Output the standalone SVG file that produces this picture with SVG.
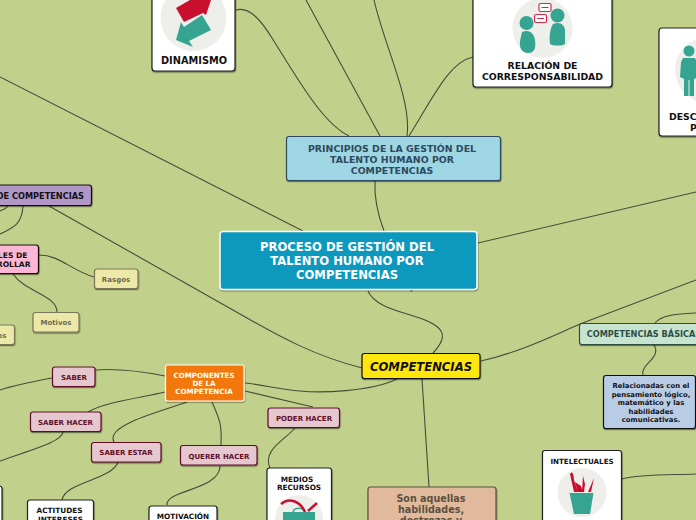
<svg xmlns="http://www.w3.org/2000/svg" width="696" height="520" viewBox="0 0 696 520">
<defs>
<filter id="sh" x="-10%" y="-10%" width="120%" height="125%"><feDropShadow dx="0.5" dy="1.2" stdDeviation="0.7" flood-color="#000" flood-opacity="0.45"/></filter>
</defs>
<style>
text{font-family:"DejaVu Sans","Liberation Sans",sans-serif;font-weight:700;text-anchor:middle}
.c{fill:none;stroke:#474c3a;stroke-width:1.1}
rect{filter:url(#sh)}
.w{fill:#fff;stroke:#222;stroke-width:1.2}
.p{fill:#e6c6cf;stroke:#5f1028;stroke-width:1.2}
.pt{fill:#5f1028;font-size:7px}
.y{fill:#ece8a8;stroke:#7b775a;stroke-width:1.2}
.yt{fill:#6f6b4f;font-size:7px}
.k{fill:#111;font-size:7.3px}
.k2{fill:#111;font-size:9.3px}
.disc{fill:#eeeeea}
.g{fill:#35a591}
.r{fill:#c8102e}
.b{fill:#fff;stroke:#d8284a;stroke-width:1.2;filter:none}
</style>
<rect x="-1" y="-1" width="698" height="522" fill="#c1d18b" style="filter:none"/>
<g id="connectors" class="c">
<path d="M0 77L303 231"/>
<path d="M49 206L240 314C280 337 315 356 362 368"/>
<path d="M236 10C250 6 262 22 272 38C296 76 322 123 349 136"/>
<path d="M306 0L380 136"/>
<path d="M374 0C384 45 412 100 407 136"/>
<path d="M473 57C450 62 436 92 409 136"/>
<path d="M375 181C374 200 378 215 384 231"/>
<path d="M478 243L696 192"/>
<path d="M368 291C375 308 405 312 425 320C442 327 450 335 433 353"/>
<path d="M481 361C520 352 550 337 580 324L696 280"/>
<path d="M397 379C370 392 320 393 300 391C280 390 265 385 245 383"/>
<path d="M245 391L313 407"/>
<path d="M422 379L429 487"/>
<path d="M655 323C662 314 680 314 696 313"/>
<path d="M654 345C662 358 640 364 643 375"/>
<path d="M622 479C640 474 670 475 696 474"/>
<path d="M165 376C145 372 120 368 95 370"/>
<path d="M52 378C30 382 15 385 0 390"/>
<path d="M165 392C140 398 105 402 88 412"/>
<path d="M63 432C62 442 30 450 0 461"/>
<path d="M187 402C160 412 105 425 114 442"/>
<path d="M118 462C112 480 65 482 62 500"/>
<path d="M212 402C220 420 222 425 221 445"/>
<path d="M220 466C220 490 165 490 167 505"/>
<path d="M295 428C285 440 262 450 270 468"/>
<path d="M23 206C22 225 12 228 0 234"/>
<path d="M8 206C6 209 2 210 0 211"/>
<path d="M39 255C60 255 70 270 94 277"/>
<path d="M13 274C25 292 57 295 57 312"/>
</g>
<g id="n-dinamismo">
<rect class="w" x="152" y="-10" width="83" height="81" rx="3"/>
<circle class="disc" cx="193.500" cy="18" r="33"/>
<path class="r" d="M176 8L190 0H211L206 15L203 13L184 22Z"/>
<path class="g" d="M181 22L184 27L202 15L211 30L189 41L193 47L176 40Z"/>
<text x="194" y="63.500" font-size="9.800" fill="#111">DINAMISMO</text>
</g>
<g id="n-relacion">
<rect class="w" x="473" y="-10" width="139" height="97" rx="3"/>
<circle class="disc" cx="542.500" cy="28" r="30"/>
<circle class="g" cx="526.500" cy="23" r="7"/>
<path class="g" d="M522 32C530 29 534 34 535 40C536 47 535 53 528 53C522 53 519 48 520 41Z"/>
<circle class="g" cx="557.500" cy="15.500" r="7"/>
<path class="g" d="M553 24C560 21 565 25 565 31L565 44C562 46 553 46 550 44C549 36 550 29 553 24Z"/>
<rect class="b" x="534.500" y="14.500" width="12" height="8" rx="1.500"/>
<path d="M537 18.500H544" stroke="#d8284a"/>
<rect class="b" x="539" y="3.500" width="12" height="8" rx="1.500"/>
<path d="M541.500 7.500H548.500" stroke="#d8284a"/>
<text x="542.500" y="69" class="k2">RELACIÓN DE</text>
<text x="542.500" y="80" class="k2">CORRESPONSABILIDAD</text>
</g>
<g id="n-descripcion">
<rect class="w" x="659" y="28" width="60" height="108" rx="3"/>
<circle class="disc" cx="708" cy="70" r="33"/>
<circle class="g" cx="689" cy="51" r="5.500"/>
<path class="g" d="M683 58H695L697 62L697 78L694 79V96H689.500V80H688.500V96H684V79L680 77L681 62Z"/>
<text x="669" y="119.500" class="k2" style="text-anchor:start">DESCRIPCIÓN</text>
<text x="690" y="130.500" class="k2" style="text-anchor:start">P</text>
</g>
<g id="n-principios">
<rect x="286.500" y="136.500" width="214" height="44" rx="2.500" fill="#9fd6e3" stroke="#2d4a5e" stroke-width="1.200"/>
<g fill="#2d4a5e" font-size="9.400"><text x="392" y="151.500">PRINCIPIOS DE LA GESTIÓN DEL</text><text x="392" y="162.500">TALENTO HUMANO POR</text><text x="392" y="173.500">COMPETENCIAS</text></g>
</g>
<g id="n-proceso">
<rect x="220" y="231.500" width="257" height="58" rx="3" fill="#0f99bd" stroke="#fff" stroke-width="1.500"/>
<g fill="#fff" font-size="11.600"><text x="347" y="251">PROCESO DE GESTIÓN DEL</text><text x="347" y="265">TALENTO HUMANO POR</text><text x="347" y="279">COMPETENCIAS</text></g>
<circle cx="411.500" cy="291" r="1" fill="#666"/>
</g>
<g id="n-decompetencias">
<rect x="-60" y="185" width="151.500" height="20.500" rx="2.500" fill="#b097c7" stroke="#111" stroke-width="1.200"/>
<text x="84" y="198.500" font-size="8.200" fill="#111" style="text-anchor:end">DE COMPETENCIAS</text>
</g>
<g id="n-niveles">
<rect x="-50" y="245" width="88.500" height="28.500" rx="2.500" fill="#fdb6d4" stroke="#111" stroke-width="1.200"/>
<text x="27.500" y="257.500" font-size="7.600" fill="#111" style="text-anchor:end">LES DE</text>
<text x="30.500" y="266.500" font-size="7.600" fill="#111" style="text-anchor:end">ROLLAR</text>
</g>
<g id="n-rasgos"><rect class="y" x="94.500" y="269" width="43.500" height="19.500" rx="2.500"/><text class="yt" x="116" y="281.500">Rasgos</text></g>
<g id="n-motivos"><rect class="y" x="33" y="312.500" width="46" height="19.500" rx="2.500"/><text class="yt" x="56" y="325">Motivos</text></g>
<g id="n-es"><rect class="y" x="-30" y="325" width="44.500" height="19.500" rx="2.500"/><text class="yt" x="6.500" y="337.500" style="text-anchor:end">es</text></g>
<g id="n-componentes">
<rect x="165.500" y="365" width="78.500" height="36" rx="2" fill="#f2780c" stroke="#fff" stroke-width="1.200"/>
<g fill="#fff" font-size="7.100"><text x="204" y="377.500">COMPONENTES</text><text x="204" y="386">DE LA</text><text x="204" y="394">COMPETENCIA</text></g>
</g>
<g id="n-competencias">
<rect x="362" y="353.500" width="118" height="25" rx="2.500" fill="#ffe60d" stroke="#111" stroke-width="1.200"/>
<text x="421" y="371" font-size="11.600" font-style="italic" fill="#111">COMPETENCIAS</text>
</g>
<g id="n-saber"><rect class="p" x="52.500" y="367" width="42.500" height="19.500" rx="2.500"/><text class="pt" x="74" y="379.500">SABER</text></g>
<g id="n-saberhacer"><rect class="p" x="30.500" y="412" width="70.500" height="19.500" rx="2.500"/><text class="pt" x="65.500" y="424.500">SABER HACER</text></g>
<g id="n-saberestar"><rect class="p" x="91.500" y="442.500" width="69.500" height="19.500" rx="2.500"/><text class="pt" x="126" y="455">SABER ESTAR</text></g>
<g id="n-quererhacer"><rect class="p" x="180.500" y="445.500" width="76.500" height="19.500" rx="2.500"/><text class="pt" x="219" y="458.500">QUERER HACER</text></g>
<g id="n-poderhacer"><rect class="p" x="268" y="408" width="71.500" height="19.500" rx="2.500"/><text class="pt" x="304" y="420.500">PODER HACER</text></g>
<g id="n-left"><rect class="w" x="-40" y="486" width="42" height="50" rx="2.500"/></g>
<g id="n-actitudes">
<rect class="w" x="27.500" y="500" width="66" height="40" rx="2.500"/>
<text class="k" x="59.500" y="512.500">ACTITUDES</text><text class="k" x="60.500" y="521.500">INTERESES</text>
</g>
<g id="n-motivacion">
<rect class="w" x="149" y="506" width="68" height="30" rx="2.500"/>
<text class="k" x="183" y="519">MOTIVACIÓN</text>
</g>
<g id="n-medios">
<rect class="w" x="267" y="468" width="64.500" height="70" rx="2.500"/>
<text class="k" x="297" y="481.500">MEDIOS</text><text class="k" x="299" y="490">RECURSOS</text>
<circle class="disc" cx="299" cy="519" r="24"/>
<path d="M293 512C294 507 303 507 305 512" fill="none" stroke="#35a591" stroke-width="1.500"/>
<rect class="g" x="283" y="512" width="32" height="13" style="filter:none"/>
<path d="M281 504C289 497 300 501 305 512M308 511L317 503" fill="none" stroke="#c8102e" stroke-width="2.500"/>
</g>
<g id="n-sonaquellas">
<rect x="368" y="487" width="128" height="50" rx="2.500" fill="#e1ba9d" stroke="#5c5040" stroke-width="1.200"/>
<g fill="#5c5040" font-size="9.600"><text x="431" y="502">Son aquellas</text><text x="431" y="513">habilidades,</text><text x="431" y="524">destrezas y</text></g>
</g>
<g id="n-basicas">
<rect x="579.500" y="323.500" width="140" height="21" rx="2.500" fill="#c6e4d0" stroke="#2f4f42" stroke-width="1.200"/>
<text x="644" y="337" font-size="8.200" fill="#2f4f42">COMPETENCIAS BÁSICAS</text>
</g>
<g id="n-relacionadas">
<rect x="603.500" y="375.500" width="92" height="53" rx="2.500" fill="#b8cce6" stroke="#111" stroke-width="1.200"/>
<g fill="#111" font-size="6.900"><text x="651" y="388">Relacionadas con el</text><text x="651" y="397">pensamiento lógico,</text><text x="651" y="405">matemático y las</text><text x="651" y="414">habilidades</text><text x="651" y="422">comunicativas.</text></g>
</g>
<g id="n-intelectuales">
<rect class="w" x="542.500" y="450.500" width="79" height="90" rx="2.500"/>
<text class="k" x="582" y="463.500" style="font-size:7.100px">INTELECTUALES</text>
<circle class="disc" cx="582" cy="492.500" r="24.500"/>
<path class="g" d="M569.500 493H593.500L590 514H574Z"/>
<path class="r" d="M570 474C572 470 574 474 574 480L578 492H574ZM575 482L581 486L583 492H578ZM583 476L585 484L584 492H582ZM594 478L591 492H588Z"/>
</g>
</svg>
